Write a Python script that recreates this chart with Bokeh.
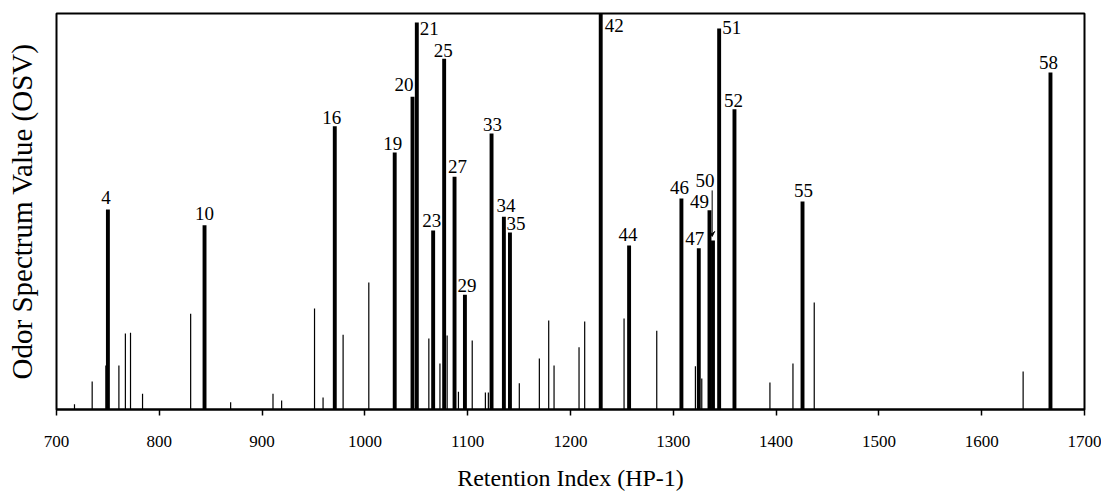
from bokeh.plotting import figure
from bokeh.models import ColumnDataSource, FixedTicker, Range1d, Arrow, VeeHead
from bokeh.core.properties import value
from bokeh.embed import file_html
from bokeh.resources import INLINE

# ---- data -------------------------------------------------------------
# labelled (odour-active) peaks
peak_ids = ["4", "10", "16", "19", "20", "21", "23", "25", "27", "29", "33", "34",
            "35", "42", "44", "46", "47", "49", "50", "51", "52", "55", "58"]
peak_ri = [750.0, 844.0, 970.7, 1029.0, 1046.3, 1050.5, 1066.4, 1077.1, 1087.2, 1097.3,
           1123.2, 1135.2, 1141.1, 1229.4, 1257.0, 1307.9, 1324.8, 1335.2, 1338.6,
           1344.6, 1359.5, 1425.7, 1666.9]
peak_osv = [50.5, 46.5, 71.5, 64.9, 79.0, 97.7, 45.2, 88.6, 58.8, 29.0, 69.7, 48.7,
            44.7, 100.0, 41.4, 53.3, 40.7, 50.3, 42.7, 96.2, 75.8, 52.5, 85.1]

# minor (unlabelled) peaks
minor_ri = [717.5, 734.7, 748.0, 760.7, 767.0, 772.0, 783.7, 830.5, 869.4, 910.6, 919.0,
            951.0, 959.3, 978.8, 1003.8, 1062.2, 1073.0, 1080.0, 1091.0, 1104.4, 1117.2,
            1120.1, 1150.2, 1169.7, 1178.8, 1184.0, 1208.3, 1213.8, 1252.1, 1283.9,
            1321.5, 1327.7, 1394.0, 1416.4, 1437.1, 1640.3]
minor_osv = [1.3, 7.1, 11.1, 11.1, 19.2, 19.4, 4.0, 24.2, 1.8, 4.0, 2.3, 25.5, 3.0, 18.9,
             32.1, 17.9, 11.6, 18.7, 4.5, 17.4, 4.3, 4.3, 6.6, 12.9, 22.5, 11.1, 15.7,
             22.2, 23.0, 19.9, 10.9, 7.8, 6.8, 11.6, 27.0, 9.6]

x_ticks = [700, 800, 900, 1000, 1100, 1200, 1300, 1400, 1500, 1600, 1700]

# ---- label placement (screen px) --------------------------------------
label_dx = [-2, 0, -3, -2, 1, 3, -1.5, -1, 3, 2, 1, 2, 6, 4, -1, -2, -4, -10, -8, 3, -1, 1, -2]
label_gap = [7, 7, 4, 4, 7, -11, 5, 3, 5, 4, 4, 6, 3.5, -17, 6, 5.6, 5, 4, 55, -4, 4, 5.7, 5]
label_lift = 5
label_align = ["center"] * len(peak_ids)
label_align[peak_ids.index("20")] = "right"
for k in ("21", "42", "51"):
    label_align[peak_ids.index(k)] = "left"

SERIF = "Liberation Serif"

p = figure(frame_width=1028, frame_height=396,
           x_range=Range1d(700, 1700), y_range=Range1d(0, 100),
           output_backend="svg", toolbar_location=None,
           min_border_left=56, min_border_right=17, min_border_top=13, min_border_bottom=70)
p.background_fill_color = "white"
p.border_fill_color = "white"
p.grid.visible = False
p.outline_line_color = "black"
p.outline_line_width = 2

minor_src = ColumnDataSource(dict(x=minor_ri, y=minor_osv, y0=[0] * len(minor_ri)))
p.segment(x0="x", y0="y0", x1="x", y1="y", source=minor_src,
          line_color="black", line_width=1.2)

peak_src = ColumnDataSource(dict(x=peak_ri, top=peak_osv, label=peak_ids,
                                 dx=label_dx, dy=[-(g + label_lift) for g in label_gap],
                                 align=label_align))
p.vbar(x="x", top="top", bottom=0, width=3.8, source=peak_src,
       fill_color="black", line_color=None)

p.text(x="x", y="top", text="label", source=peak_src,
       x_offset="dx", y_offset="dy", text_align="align",
       text_baseline="alphabetic", text_font=value(SERIF),
       text_font_size="19px", text_color="black")

# leader arrow from label 50 down to its bar
i50 = peak_ids.index("50")
x50 = peak_ri[i50] - 0.8
top50 = peak_osv[i50]
p.add_layout(Arrow(end=VeeHead(size=5, line_width=1, line_color="black"),
                   x_start=x50, y_start=top50 + (label_gap[i50] - 5) / 3.96,
                   x_end=x50, y_end=top50 + 1.0,
                   line_color="black", line_width=1))

xa = p.xaxis[0]
xa.ticker = FixedTicker(ticks=x_ticks)
xa.minor_tick_line_color = None
xa.major_tick_in = 0
xa.major_tick_out = 6
xa.major_tick_line_width = 1.5
xa.axis_line_width = 2
xa.major_label_text_font = SERIF
xa.major_label_text_font_size = "17px"
xa.major_label_text_color = "black"
xa.major_label_standoff = 20
xa.axis_label = "Retention Index (HP-1)"
xa.axis_label_text_font = SERIF
xa.axis_label_text_font_style = "normal"
xa.axis_label_text_font_size = "24px"
xa.axis_label_text_color = "black"
xa.axis_label_standoff = 15

ya = p.yaxis[0]
ya.ticker = FixedTicker(ticks=[])
ya.major_tick_line_color = None
ya.minor_tick_line_color = None
ya.axis_line_color = None
ya.axis_label = "Odor Spectrum Value (OSV)"
ya.axis_label_text_font = SERIF
ya.axis_label_text_font_style = "normal"
ya.axis_label_text_font_size = "29px"
ya.axis_label_text_color = "black"
ya.axis_label_standoff = 19

open("out.html", "w").write(file_html(p, INLINE))
